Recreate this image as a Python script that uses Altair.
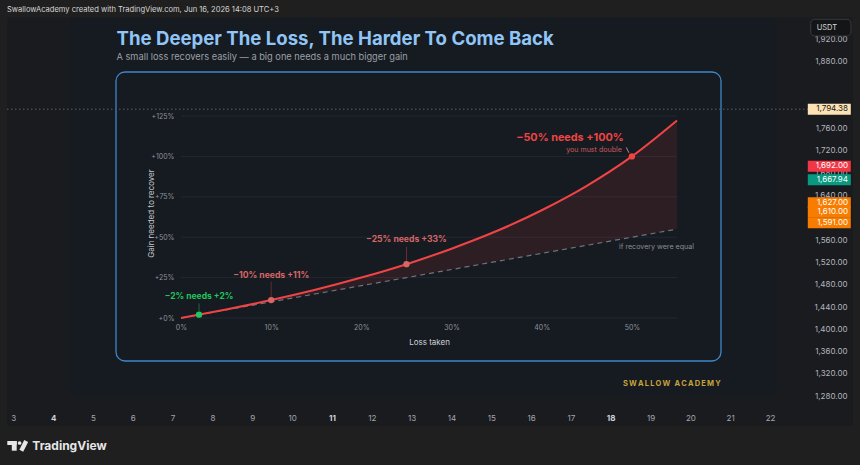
import altair as alt
import pandas as pd

# ---------------- data ----------------
curve_loss = [0.00, 0.05, 0.10, 0.15, 0.20, 0.25, 0.30, 0.35, 0.40, 0.45, 0.50, 0.55]
curve_gain = [0.000, 0.053, 0.111, 0.176, 0.250, 0.333, 0.429, 0.538, 0.667, 0.818, 1.000, 1.222]

ann_loss = [0.02, 0.10, 0.25, 0.50]
ann_gain = [0.0204, 0.111, 0.333, 1.000]
ann_label = ["−2% needs +2%", "−10% needs +11%", "−25% needs +33%", "−50% needs +100%"]
note_double = "you must double"
note_equal = "if recovery were equal"
equal_end = [0.55]

gain_ticks = [0, 0.25, 0.5, 0.75, 1.0, 1.25]
loss_ticks = [0, 0.1, 0.2, 0.3, 0.4, 0.5]

price_ticks = [1280, 1320, 1360, 1400, 1440, 1480, 1520, 1560, 1640, 1680,
               1720, 1760, 1880, 1920]
tag_prices = [1794.38, 1692.00, 1667.94, 1627.00, 1610.00, 1591.00]
last_price = [1794.38]
day_ticks = list(range(3, 23))
bold_days = [4, 11, 18]

title_text = "The Deeper The Loss, The Harder To Come Back"
subtitle_text = "A small loss recovers easily — a big one needs a much bigger gain"
header_text = "SwallowAcademy created with TradingView.com, Jun 16, 2026 14:08 UTC+3"
brand_text = "\u2009".join("SWALLOW") + "\u2009 \u2009" + "\u2009".join("ACADEMY")
logo_text = "TradingView"
currency_text = "USDT"

# ---------------- styles / layout ----------------
FONT = "Inter"
OX, OY = 181, 116          # plot-area origin inside the 860x465 canvas
W, H = 496, 202
OUTER = "#1f1f1f"
PANE = "#1a1b1f"
OVERLAY = "#161a21"
RED = "#ef4444"
MUTED = "#d76767"
GREEN = "#22c55e"

tag_fill = ["#fde2b4", "#f23645", "#089981", "#f77c00", "#f77c00", "#f77c00"]
tag_ink = ["#131722", "#ffffff", "#ffffff", "#ffffff", "#ffffff", "#ffffff"]

ONE = alt.Data(values=[{"k": 1}])


def vx(x):
    return alt.value(x - OX)


def vy(y):
    return alt.value(y - OY)


def box(x0, y0, x1, y1, **mk):
    return alt.Chart(ONE).mark_rect(**mk).encode(x=vx(x0), x2=vx(x1), y=vy(y0), y2=vy(y1))


def label(x, y, text, **mk):
    return alt.Chart(ONE).mark_text(text=text, font=FONT, baseline="middle", **mk).encode(
        x=vx(x), y=vy(y))


# ---------------- background decorations ----------------
back = [
    box(0, 0, 860, 17.5, color=OUTER),
    box(0, 426, 860, 465, color=OUTER),
    box(0, 17.5, 7, 426, color=OUTER),
    box(853, 17.5, 860, 426, color=OUTER),
    box(70, 17.5, 776, 395, color=OVERLAY),
    box(116, 72, 721, 361, fillOpacity=0, stroke="#3f86c8", strokeWidth=1.3, cornerRadius=9),
]

# ---------------- inner chart ----------------
xs = alt.Scale(domain=[0, 0.55], nice=False, zero=False)
ys = alt.Scale(domain=[0, 1.25], nice=False, zero=False)

x_axis = alt.Axis(orient="bottom", values=loss_ticks, format=".0%", labelFont=FONT,
                  labelFontSize=7, labelColor="#8d929a", labelPadding=9.7,
                  labelBaseline="middle", labelFlush=False, ticks=False, tickSize=0,
                  domain=False, grid=False, title="Loss taken", titleFont=FONT,
                  titleFontSize=8, titleFontWeight="normal", titleColor="#cfd2d6",
                  titleY=24, titleBaseline="middle", zindex=1)
y_axis = alt.Axis(orient="left", values=gain_ticks, format="+.0%", labelFont=FONT,
                  labelFontSize=7, labelColor="#8d929a", labelPadding=7, ticks=False,
                  tickSize=0, domain=False, grid=False, title="Gain needed to recover",
                  titleFont=FONT, titleFontSize=8, titleFontWeight="normal",
                  titleColor="#c5c8cc", titleX=-30, titleY=97, titleBaseline="middle",
                  zindex=1)


def X(field, axis=None):
    return alt.X(field, type="quantitative", scale=xs, axis=axis)


def Y(field, axis=None):
    return alt.Y(field, type="quantitative", scale=ys, axis=axis)


curve_df = pd.DataFrame({"loss": curve_loss, "gain": curve_gain})

grid = alt.Chart(pd.DataFrame({"g": gain_ticks})).mark_rule(
    color="#232832", strokeWidth=1).encode(y=Y("g"))

area = alt.Chart(curve_df).mark_area(color=RED, opacity=0.11, interpolate="monotone").encode(
    x=X("loss"), y=Y("gain"), y2=alt.Y2("loss"))

equal_line = alt.Chart(curve_df).mark_line(
    color="#6f737c", strokeWidth=1.2, strokeDash=[5, 4]).encode(x=X("loss"), y=Y("loss"))

curve = alt.Chart(curve_df).mark_line(
    color=RED, strokeWidth=2.1, interpolate="monotone").encode(
    x=X("loss", x_axis), y=Y("gain", y_axis))

ann_style = [
    dict(color=GREEN, leader="#1d6b3c", fs=8.5, dx=0, dy=-18.6, ly0=-11.3, ly1=-3.6),
    dict(color=MUTED, leader="#5e2c31", fs=8.6, dx=0, dy=-25.3, ly0=-18.5, ly1=-2.5),
    dict(color=MUTED, leader="#6a3035", fs=8.6, dx=0, dy=-25.3, ly0=-17.5, ly1=-2.5),
    dict(color=RED, leader="#b88a8c", fs=10.8, dx=-62, dy=-18.6, ly0=-9, ly1=-3.6),
]

ann_layers = []
for i, st in enumerate(ann_style):
    d = pd.DataFrame({"loss": [ann_loss[i]], "gain": [ann_gain[i]], "label": [ann_label[i]]})
    base = alt.Chart(d)
    if i == 3:
        lead = base.mark_rule(color=st["leader"], strokeWidth=1, xOffset=-5.6, x2Offset=-3,
                              yOffset=st["ly0"], y2Offset=st["ly1"]).encode(
            x=X("loss"), x2=alt.X2("loss"), y=Y("gain"), y2=alt.Y2("gain"))
    else:
        lead = base.mark_rule(color=st["leader"], strokeWidth=1,
                              yOffset=st["ly0"], y2Offset=st["ly1"]).encode(
            x=X("loss"), y=Y("gain"), y2=alt.Y2("gain"))
    pt = base.mark_circle(color=st["color"], size=40, opacity=1).encode(x=X("loss"), y=Y("gain"))
    tx = base.mark_text(color=st["color"], font=FONT, fontSize=st["fs"], fontWeight="bold",
                        dx=st["dx"], dy=st["dy"], baseline="middle").encode(
        x=X("loss"), y=Y("gain"), text="label:N")
    ann_layers += [lead, pt, tx]

dbl = alt.Chart(pd.DataFrame({"loss": [ann_loss[3]], "gain": [ann_gain[3]]})).mark_text(
    text=note_double, color="#c95a5e", font=FONT, fontSize=7.1, align="right",
    baseline="middle", dx=-10, dy=-6).encode(x=X("loss"), y=Y("gain"))

eq = alt.Chart(pd.DataFrame({"loss": equal_end})).mark_text(
    text=note_equal, color="#8a8e96", font=FONT, fontSize=7.1, align="center",
    baseline="middle", dx=-20.5, dy=17.6).encode(x=X("loss"), y=Y("loss"))

inner = [grid, area, equal_line, curve, *ann_layers, dbl, eq]

# ---------------- price scale (right) ----------------
ps = alt.Scale(domain=[1280, 1920], range=[396.3 - OY, 39.1 - OY], nice=False, zero=False)
price_axis = alt.Axis(orient="right", values=price_ticks, format=",.2f", offset=170,
                      labelAlign="right", labelBaseline="middle", labelPadding=0,
                      ticks=False, tickSize=0, domain=False, grid=False, labelFont=FONT,
                      labelFontSize=8, labelColor="#b2b5be", labelOverlap=False,
                      title=None, zindex=0)

price_line = alt.Chart(pd.DataFrame({"price": last_price})).mark_rule(
    color="#5b5e66", strokeWidth=1, strokeDash=[1.5, 2.5]).encode(
    y=alt.Y("price:Q", scale=ps, axis=price_axis), x=vx(7), x2=vx(808))

tag_layers = []
for i, p in enumerate(tag_prices):
    d = alt.Chart(pd.DataFrame({"price": [p]}))
    tag_layers.append(d.mark_tick(orient="horizontal", color=tag_fill[i], thickness=11,
                                  size=43, opacity=1).encode(
        x=vx(829.3), y=alt.Y("price:Q", scale=ps, axis=None)))
    tag_layers.append(d.mark_text(color=tag_ink[i], font=FONT, fontSize=8, align="right",
                                  baseline="middle").encode(
        x=vx(848), y=alt.Y("price:Q", scale=ps, axis=None),
        text=alt.Text("price:Q", format=",.2f")))

price = [price_line, *tag_layers]

# ---------------- time scale (bottom) ----------------
bold_test = " || ".join(f"datum.value == {d}" for d in bold_days)
time_axis = alt.Axis(orient="bottom", values=day_ticks, format="d", offset=100,
                     labelPadding=0, labelBaseline="middle", ticks=False, tickSize=0,
                     domain=False, grid=False, labelFlush=False, labelOverlap=False,
                     labelFont=FONT, labelFontSize=8,
                     labelColor={"condition": {"test": bold_test, "value": "#d1d4dc"},
                                 "value": "#a3a6ae"},
                     labelFontWeight={"condition": {"test": bold_test, "value": "bold"},
                                      "value": "normal"},
                     title=None, zindex=0)
time = alt.Chart(pd.DataFrame({"day": day_ticks})).mark_point(opacity=0).encode(
    x=alt.X("day:Q", scale=alt.Scale(domain=[3, 22], range=[13.3 - OX, 770 - OX],
                                     nice=False, zero=False), axis=time_axis))

# ---------------- foreground decorations ----------------
front = [
    label(7, 10, header_text, fontSize=7.55, color="#d6d6d6", align="left"),
    label(116.5, 39, title_text, fontSize=18.6, fontWeight="bold", color="#90c5f5", align="left"),
    label(116.5, 57, subtitle_text, fontSize=9.25, color="#9aa0a6", align="left"),
    label(720.7, 384.3, brand_text, fontSize=7.5, fontWeight="bold", color="#c8a23c",
          align="right"),
    box(810.7, 19.3, 851, 36, color="#141517", stroke="#3a3b3f", strokeWidth=1, cornerRadius=4),
    label(816.7, 27.6, currency_text, fontSize=7.5, color="#d8d8d8", align="left"),
    # TradingView logo
    box(7.3, 441, 16.7, 445, color="#e6e6e6"),
    box(11.8, 441, 16.7, 450.7, color="#e6e6e6"),
    alt.Chart(ONE).mark_circle(color="#e6e6e6", size=14, opacity=1).encode(x=vx(19.6), y=vy(443)),
    alt.Chart(ONE).mark_rule(color="#e6e6e6", strokeWidth=4.3).encode(
        x=vx(26.2), y=vy(441), x2=vx(21.3), y2=vy(450.7)),
    label(32.3, 446, logo_text, fontSize=12, fontWeight="bold", color="#e6e6e6", align="left"),
]

chart = alt.layer(*back, *inner, *price, time, *front).resolve_scale(
    x="independent", y="independent"
).properties(
    width=W, height=H,
    padding={"left": OX, "top": OY, "right": 860 - OX - W, "bottom": 465 - OY - H},
    autosize=alt.AutoSizeParams(type="none"),
    background=PANE,
).configure_view(stroke=None)

chart.save("out.html", embed_options={"renderer": "svg", "actions": False})
